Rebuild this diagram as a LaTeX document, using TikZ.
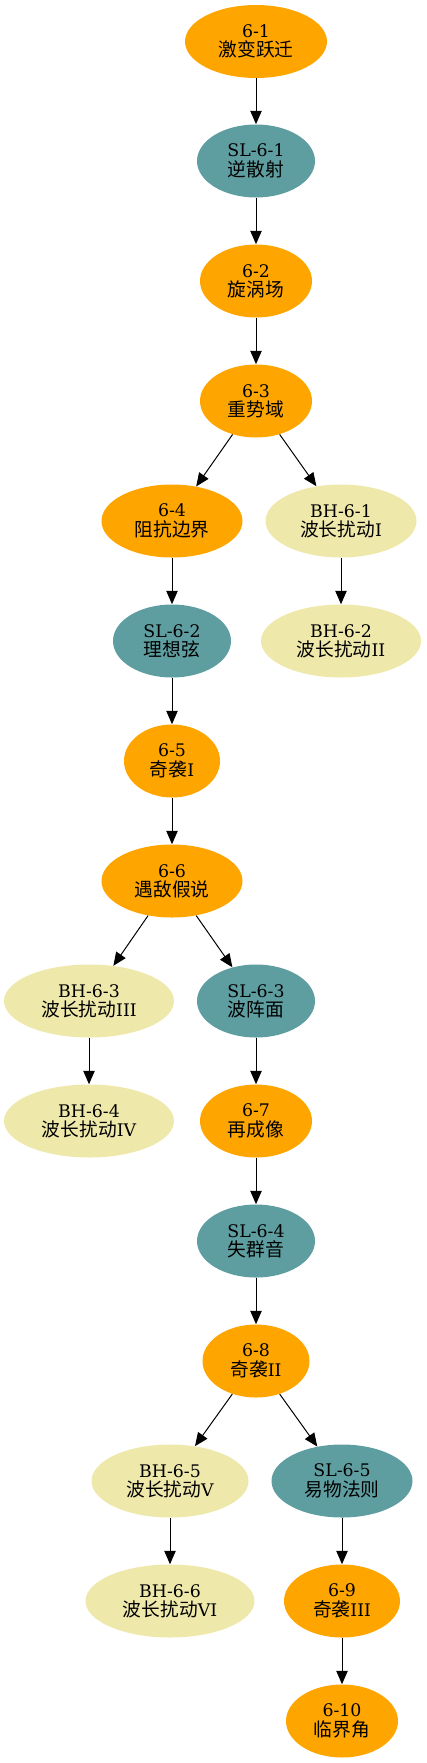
\documentclass[tikz,border=0pt]{standalone}
\usepackage{fontspec}
\setmainfont{DejaVu Serif}
\newfontfamily\cjk[Scale=1.08]{Noto Sans CJK SC}
\usetikzlibrary{shapes.geometric,arrows.meta}
\definecolor{gvorange}{HTML}{FFA500}
\definecolor{gvcadet}{HTML}{5F9EA0}
\definecolor{gvgold}{HTML}{EEE8AA}
\begin{document}
\begin{tikzpicture}[x=0.75pt, y=-0.75pt,
    box/.style={ellipse, inner sep=0pt, minimum height=54.75pt, align=center,
      font=\fontsize{13}{14.5}\selectfont},
    main/.style={box, fill=gvorange},
    side/.style={box, fill=gvcadet},
    wave/.style={box, fill=gvgold},
    edge/.style={-{Triangle[length=10pt,width=8.5pt]}, line width=0.75pt}]
    \useasboundingbox (0,0) rectangle (426,1763);

    \node[main, minimum width=106.5pt] (n61) at (256,41.5) {6-1\\{\cjk 激变跃迁}};
    \node[side, minimum width=88.5pt] (sl61) at (256,161) {SL-6-1\\{\cjk 逆散射}};
    \node[main, minimum width=84pt] (n62) at (256,281) {6-2\\{\cjk 旋涡场}};
    \node[main, minimum width=84pt] (n63) at (256,401) {6-3\\{\cjk 重势域}};
    \node[main, minimum width=105.75pt] (n64) at (172,521) {6-4\\{\cjk 阻抗边界}};
    \node[wave, minimum width=113.25pt] (bh61) at (341,521) {BH-6-1\\{\cjk 波长扰动}I};
    \node[side, minimum width=88.5pt] (sl62) at (172,641) {SL-6-2\\{\cjk 理想弦}};
    \node[wave, minimum width=120pt] (bh62) at (341,641) {BH-6-2\\{\cjk 波长扰动}II};
    \node[main, minimum width=72pt] (n65) at (172,761) {6-5\\{\cjk 奇袭}I};
    \node[main, minimum width=105.75pt] (n66) at (172,881) {6-6\\{\cjk 遇敌假说}};
    \node[wave, minimum width=127.5pt] (bh63) at (89,1001) {BH-6-3\\{\cjk 波长扰动}III};
    \node[side, minimum width=88.5pt] (sl63) at (256,1001) {SL-6-3\\{\cjk 波阵面}};
    \node[wave, minimum width=127.5pt] (bh64) at (89,1121) {BH-6-4\\{\cjk 波长扰动}IV};
    \node[main, minimum width=84pt] (n67) at (256,1121) {6-7\\{\cjk 再成像}};
    \node[side, minimum width=88.5pt] (sl64) at (256,1241) {SL-6-4\\{\cjk 失群音}};
    \node[main, minimum width=80.25pt] (n68) at (256,1361) {6-8\\{\cjk 奇袭}II};
    \node[wave, minimum width=117.75pt] (bh65) at (170,1481) {BH-6-5\\{\cjk 波长扰动}V};
    \node[side, minimum width=105.75pt] (sl65) at (342,1481) {SL-6-5\\{\cjk 易物法则}};
    \node[wave, minimum width=126.75pt] (bh66) at (170,1601) {BH-6-6\\{\cjk 波长扰动}VI};
    \node[main, minimum width=87pt] (n69) at (342,1601) {6-9\\{\cjk 奇袭}III};
    \node[main, minimum width=84pt] (n610) at (342,1721) {6-10\\{\cjk 临界角}};

    \draw[edge] (n61) -- (sl61);
    \draw[edge] (sl61) -- (n62);
    \draw[edge] (n62) -- (n63);
    \draw[edge] (n63) -- (n64);
    \draw[edge] (n63) -- (bh61);
    \draw[edge] (bh61) -- (bh62);
    \draw[edge] (n64) -- (sl62);
    \draw[edge] (sl62) -- (n65);
    \draw[edge] (n65) -- (n66);
    \draw[edge] (n66) -- (bh63);
    \draw[edge] (n66) -- (sl63);
    \draw[edge] (bh63) -- (bh64);
    \draw[edge] (sl63) -- (n67);
    \draw[edge] (n67) -- (sl64);
    \draw[edge] (sl64) -- (n68);
    \draw[edge] (n68) -- (bh65);
    \draw[edge] (n68) -- (sl65);
    \draw[edge] (bh65) -- (bh66);
    \draw[edge] (sl65) -- (n69);
    \draw[edge] (n69) -- (n610);
\end{tikzpicture}
\end{document}
